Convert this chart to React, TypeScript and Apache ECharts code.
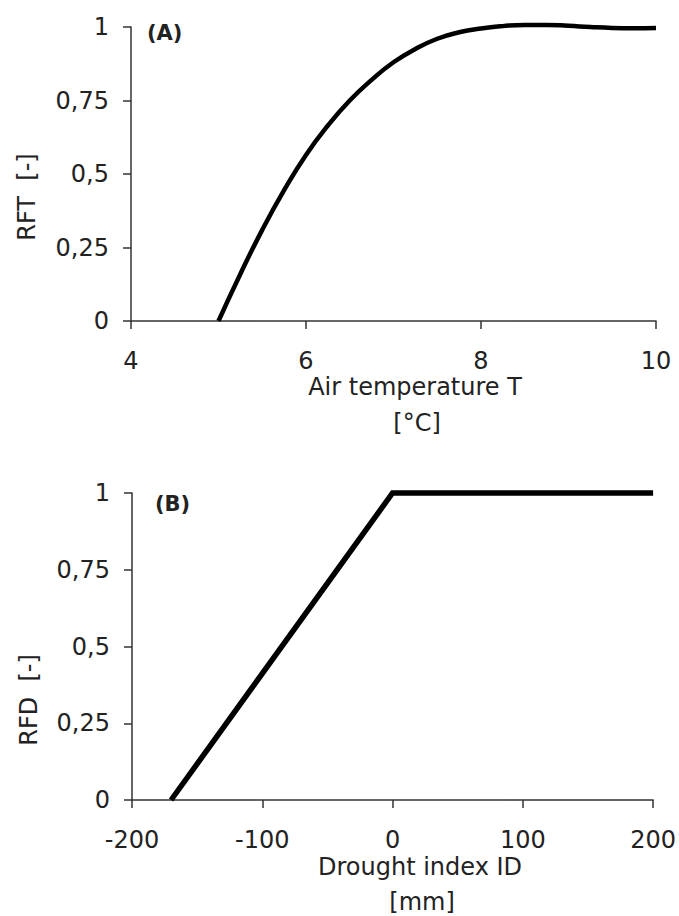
import React, { useEffect, useRef } from "react";
import * as echarts from "echarts";

// Panel A: reduction factor for temperature
const tempT: number[] = [5, 5.25, 5.5, 5.75, 6, 6.25, 6.5, 6.75, 7, 7.25, 7.5, 7.75, 8, 8.25, 8.5, 8.75, 9, 9.25, 9.5, 9.75, 10];
const rftValues: number[] = [0, 0.16, 0.31, 0.445, 0.565, 0.665, 0.75, 0.82, 0.88, 0.925, 0.96, 0.982, 0.995, 1.003, 1.007, 1.007, 1.004, 1.0, 0.997, 0.996, 0.997];

// Panel B: reduction factor for drought
const droughtID: number[] = [-170, 0, 200];
const rfdValues: number[] = [0, 1, 1];

// Tick settings
const xTicksA: number[] = [4, 6, 8, 10];
const xTicksB: number[] = [-200, -100, 0, 100, 200];
const yTickLabels: string[] = ["0", "0,25", "0,5", "0,75", "1"];

const FONT = "DejaVu Sans";
const TXT = "#222";
const AX = "#333";

const fmtY = (v: number) => {
  const idx = Math.round(v / 0.25);
  return yTickLabels[idx] ?? String(v).replace(".", ",");
};

export default function App() {
  const ref = useRef<HTMLDivElement>(null);
  useEffect(() => {
    if (!ref.current) return;
    const chart = echarts.init(ref.current, null, { renderer: "svg" });
    const axisCommon = {
      axisLine: { show: true, onZero: false, lineStyle: { color: AX, width: 1.5 } },
      axisTick: { show: true, length: 8, lineStyle: { color: AX, width: 1.5 } },
      splitLine: { show: false },
    };
    const yAxisBase = (gi: number) => ({
      type: "value" as const,
      gridIndex: gi,
      min: 0,
      max: 1,
      interval: 0.25,
      ...axisCommon,
      axisLabel: {
        formatter: fmtY,
        fontFamily: FONT,
        fontSize: 24,
        color: TXT,
        margin: 22,
      },
    });
    const titleStyle = (text: string) => ({
      text,
      fontFamily: FONT,
      fontSize: 24,
      lineHeight: 22,
      fill: TXT,
      align: "center",
      verticalAlign: "middle",
    });
    chart.setOption({
      animation: false,
      backgroundColor: "#ffffff",
      grid: [
        { left: 131, right: 23, top: 27, bottom: 595 },
        { left: 132, right: 24, top: 493, bottom: 116 },
      ],
      xAxis: [
        {
          type: "value",
          gridIndex: 0,
          min: xTicksA[0],
          max: xTicksA[xTicksA.length - 1],
          interval: xTicksA[1] - xTicksA[0],
          ...axisCommon,
          axisLabel: { fontFamily: FONT, fontSize: 24, lineHeight: 22, color: TXT, margin: 29 },
        },
        {
          type: "value",
          gridIndex: 1,
          min: xTicksB[0],
          max: xTicksB[xTicksB.length - 1],
          interval: xTicksB[1] - xTicksB[0],
          ...axisCommon,
          axisLabel: { fontFamily: FONT, fontSize: 24, lineHeight: 22, color: TXT, margin: 29 },
        },
      ],
      yAxis: [yAxisBase(0), yAxisBase(1)],
      series: [
        {
          type: "line",
          xAxisIndex: 0,
          yAxisIndex: 0,
          data: tempT.map((t, i) => [t, rftValues[i]]),
          smooth: true,
          showSymbol: false,
          clip: false,
          lineStyle: { color: "#000", width: 4.5 },
        },
        {
          type: "line",
          xAxisIndex: 1,
          yAxisIndex: 1,
          data: droughtID.map((d, i) => [d, rfdValues[i]]),
          showSymbol: false,
          clip: false,
          lineStyle: { color: "#000", width: 5.5, join: "miter" },
        },
      ],
      graphic: [
        { type: "text", x: 147, y: 33, style: { text: "(A)", fontFamily: FONT, fontWeight: "bold", fontSize: 21, fill: TXT, verticalAlign: "middle" } },
        { type: "text", x: 155, y: 504, style: { text: "(B)", fontFamily: FONT, fontWeight: "bold", fontSize: 21, fill: TXT, verticalAlign: "middle" } },
        { type: "text", x: 415, y: 387, style: titleStyle("Air temperature T") },
        { type: "text", x: 417, y: 423, style: titleStyle("[°C]") },
        { type: "text", x: 420, y: 867, style: titleStyle("Drought index ID") },
        { type: "text", x: 422, y: 902, style: titleStyle("[mm]") },
        { type: "text", x: 27, y: 197, rotation: Math.PI / 2, style: titleStyle("RFT  [-]") },
        { type: "text", x: 29, y: 700, rotation: Math.PI / 2, style: titleStyle("RFD  [-]") },
      ],
    });
    return () => chart.dispose();
  }, []);
  return (
    <div
      ref={ref}
      style={{ position: "fixed", left: 0, top: 0, width: 679, height: 916, background: "#fff" }}
    />
  );
}
